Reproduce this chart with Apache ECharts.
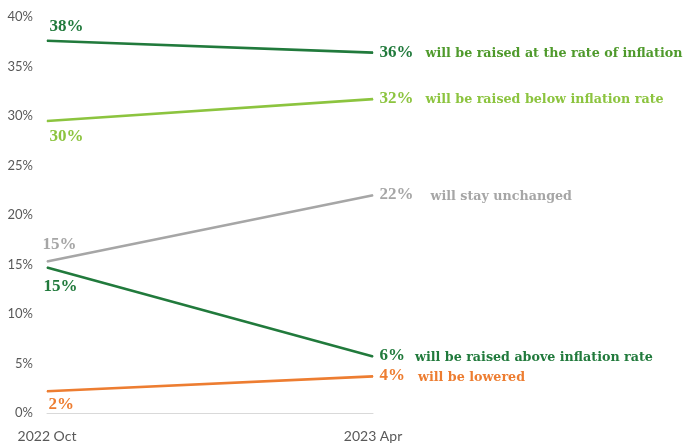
<!DOCTYPE html>
<html>
<head>
<meta charset="utf-8">
<script src="https://cdn.jsdelivr.net/npm/echarts@6/dist/echarts.min.js"></script>
<style>
  html, body { margin: 0; padding: 0; background: #fff; }
  #chart { width: 686px; height: 447px; }
</style>
</head>
<body>
<div id="chart"></div>
<script>
// 数据
const periods = ["2022 Oct", "2023 Apr"];
const seriesNames = [
  "will be raised at the rate of inflation",
  "will be raised below inflation rate",
  "will stay unchanged",
  "will be raised above inflation rate",
  "will be lowered",
];
const atInflation = [37.6, 36.4];
const belowInflation = [29.5, 31.7];
const unchanged = [15.3, 22.0];
const aboveInflation = [14.7, 5.7];
const lowered = [2.2, 3.7];
const yTicks = [0, 5, 10, 15, 20, 25, 30, 35, 40];

// 样式
const lineColors = ["#217a3c", "#8cc43f", "#a6a6a6", "#217a3c", "#ed7d31"];
const descColors = ["#4f9a2c", "#8cc43f", "#a6a6a6", "#217a3c", "#ed7d31"];
const startOffsets = [[3, -14], [3, 16], [-4, -16], [-3, 20], [2, 14]];
const descGaps = [12, 12, 17, 10, 13];

const valueList = [atInflation, belowInflation, unchanged, aboveInflation, lowered];

const serifFont = "'Liberation Serif', 'DejaVu Serif', serif";
const descFont = "'DejaVu Serif', serif";

let seriesConfig = valueList.map((values, index) => {
  return {
    name: seriesNames[index],
    type: "line",
    symbol: "circle",
    symbolSize: 1,
    lineStyle: { color: lineColors[index], width: 2.6 },
    itemStyle: { color: lineColors[index] },
    silent: true,
    z: 10 - index,
    data: values.map((v, i) => {
      if (i === 0) {
        return {
          value: v,
          label: {
            show: true,
            position: startOffsets[index],
            align: "left",
            verticalAlign: "middle",
            formatter: Math.round(v) + "%",
            color: lineColors[index],
            fontFamily: serifFont,
            fontWeight: "bold",
            fontSize: 17,
          },
        };
      }
      return {
        value: v,
        label: {
          show: true,
          position: [7, 0],
          align: "left",
          verticalAlign: "middle",
          formatter: "{v|" + Math.round(v) + "%}{d|" + seriesNames[index] + "}",
          rich: {
            v: {
              color: lineColors[index],
              fontFamily: serifFont,
              fontWeight: "bold",
              fontSize: 17,
            },
            d: {
              color: descColors[index],
              fontFamily: descFont,
              fontWeight: "bold",
              fontSize: 12.7,
              padding: [3, 0, 0, descGaps[index]],
            },
          },
        },
      };
    }),
  };
});

let myChart = echarts.init(document.getElementById("chart"));
let option = {
  animation: false,
  grid: { left: 47, right: 313, top: 17, bottom: 34, containLabel: false },
  xAxis: {
    type: "category",
    data: periods,
    boundaryGap: false,
    axisLine: { lineStyle: { color: "#d9d9d9", width: 1 } },
    axisTick: { show: false },
    axisLabel: {
      color: "#595959",
      fontSize: 14,
      fontFamily: "Lato, 'Liberation Sans', sans-serif",
      margin: 16,
      interval: 0,
    },
    splitLine: { show: false },
  },
  yAxis: {
    type: "value",
    min: yTicks[0],
    max: yTicks[yTicks.length - 1],
    interval: 5,
    axisLine: { show: false },
    axisTick: { show: false },
    splitLine: { show: false },
    axisLabel: {
      color: "#595959",
      fontSize: 13,
      fontFamily: "Lato, 'Liberation Sans', sans-serif",
      margin: 14,
      formatter: "{value}%",
    },
  },
  series: seriesConfig,
};

option && myChart.setOption(option);
</script>
</body>
</html>
